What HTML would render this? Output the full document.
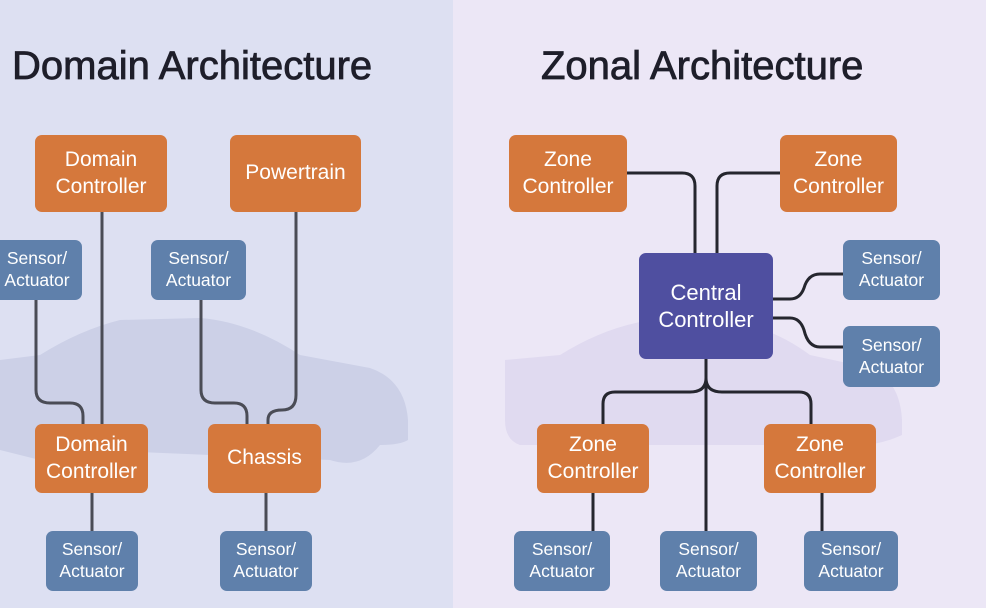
<!DOCTYPE html>
<html><head><style>
body{margin:0;width:986px;height:608px;overflow:hidden;font-family:"Liberation Sans",sans-serif;position:relative}
.b{position:absolute;display:flex;align-items:center;justify-content:center;text-align:center;color:#fff;border-radius:7px;line-height:1.25}
.o{background:#d5783c;font-size:21px}
.s{background:#5f80ab;font-size:17.5px}
.c{background:#4f4fa0;font-size:22px}
h1{position:absolute;margin:0;font-weight:normal;font-size:40px;color:#1e1e2a;top:44px;-webkit-text-stroke:0.8px #1e1e2a}
</style></head><body>
<svg width="986" height="608" style="position:absolute;left:0;top:0">
<rect x="0" y="0" width="453" height="608" fill="#dde0f2"/>
<rect x="453" y="0" width="533" height="608" fill="#ece7f6"/>
<path d="M0 360 L40 355 Q80 330 120 320 L200 318 Q250 322 300 355 L370 368 Q405 380 408 420 L408 440 Q400 445 380 445 Q360 470 330 460 L90 450 Q70 470 40 460 L0 450 Z" fill="#ccd0e7"/>
<path d="M505 360 L560 355 Q600 330 640 322 L720 320 Q770 325 810 355 L870 368 Q900 380 902 420 L902 435 Q880 445 860 445 L520 445 Q505 440 505 420 Z" fill="#e0daf0"/>
<g fill="none" stroke="#4a4c56" stroke-width="3">
<path d="M102 212 V424"/>
<path d="M36 300 V390 Q36 403 50 403 H70 Q83 403 83 416 V424"/>
<path d="M201 300 V390 Q201 403 215 403 H234 Q247 403 247 416 V424"/>
<path d="M296 212 V395 Q296 410 282 410 Q268 410 268 420 V424"/>
<path d="M92 493 V531 M266 493 V531"/>
</g>
<g fill="none" stroke="#25262e" stroke-width="3">
<path d="M627 173 H682 Q695 173 695 186 V253"/>
<path d="M780 173 H730 Q717 173 717 186 V253"/>
<path d="M773 299 H790 Q800 299 804 288 Q808 274 820 274 H843"/>
<path d="M773 318 H790 Q800 318 804 330 Q808 347 820 347 H843"/>
<path d="M706 359 V531"/>
<path d="M706 378 Q706 392 690 392 H615 Q603 392 603 404 V424"/>
<path d="M706 378 Q706 392 722 392 H799 Q811 392 811 404 V424"/>
<path d="M593 493 V531 M822 493 V531"/>
</g>
</svg>
<h1 style="left:12px">Domain Architecture</h1>
<h1 style="left:541px">Zonal Architecture</h1>
<div class="b o" style="left:35px;top:135px;width:132px;height:77px">Domain<br>Controller</div>
<div class="b o" style="left:230px;top:135px;width:131px;height:77px">Powertrain</div>
<div class="b s" style="left:-8px;top:240px;width:90px;height:60px">Sensor/<br>Actuator</div>
<div class="b s" style="left:151px;top:240px;width:95px;height:60px">Sensor/<br>Actuator</div>
<div class="b o" style="left:35px;top:424px;width:113px;height:69px">Domain<br>Controller</div>
<div class="b o" style="left:208px;top:424px;width:113px;height:69px">Chassis</div>
<div class="b s" style="left:46px;top:531px;width:92px;height:60px">Sensor/<br>Actuator</div>
<div class="b s" style="left:220px;top:531px;width:92px;height:60px">Sensor/<br>Actuator</div>
<div class="b o" style="left:509px;top:135px;width:118px;height:77px">Zone<br>Controller</div>
<div class="b o" style="left:780px;top:135px;width:117px;height:77px">Zone<br>Controller</div>
<div class="b c" style="left:639px;top:253px;width:134px;height:106px">Central<br>Controller</div>
<div class="b s" style="left:843px;top:240px;width:97px;height:60px">Sensor/<br>Actuator</div>
<div class="b s" style="left:843px;top:326px;width:97px;height:61px">Sensor/<br>Actuator</div>
<div class="b o" style="left:537px;top:424px;width:112px;height:69px">Zone<br>Controller</div>
<div class="b o" style="left:764px;top:424px;width:112px;height:69px">Zone<br>Controller</div>
<div class="b s" style="left:514px;top:531px;width:96px;height:60px">Sensor/<br>Actuator</div>
<div class="b s" style="left:660px;top:531px;width:97px;height:60px">Sensor/<br>Actuator</div>
<div class="b s" style="left:804px;top:531px;width:94px;height:60px">Sensor/<br>Actuator</div>
</body></html>
